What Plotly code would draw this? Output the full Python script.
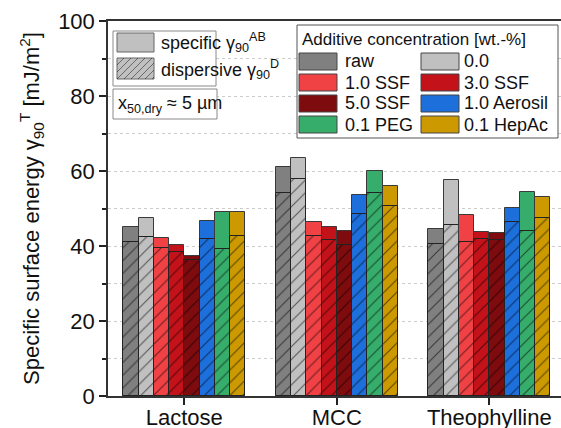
import plotly.graph_objects as go

# ---------------- data ----------------
categories = ["Lactose", "MCC", "Theophylline"]
additives = ["raw", "0.0", "1.0 SSF", "3.0 SSF", "5.0 SSF", "1.0 Aerosil", "0.1 PEG", "0.1 HepAc"]
colors = ["#808080", "#c0c0c0", "#f04145", "#c3121a", "#7e0b0e", "#1d6fdc", "#37ad6b", "#cc9a00"]

# specific surface energy gamma_90^AB (total bar height)
specific_raw = [45.0, 61.0, 44.6]
specific_00 = [47.4, 63.6, 57.5]
specific_ssf10 = [42.1, 46.3, 48.3]
specific_ssf30 = [40.4, 45.0, 43.7]
specific_ssf50 = [37.4, 44.1, 43.4]
specific_aerosil = [46.6, 53.6, 50.1]
specific_peg = [49.2, 59.9, 54.3]
specific_hepac = [49.0, 56.0, 53.0]

# dispersive surface energy gamma_90^D (hatched part)
dispersive_raw = [41.2, 54.2, 40.6]
dispersive_00 = [42.3, 58.0, 45.6]
dispersive_ssf10 = [39.4, 42.8, 41.0]
dispersive_ssf30 = [38.3, 41.5, 41.8]
dispersive_ssf50 = [36.4, 40.2, 41.5]
dispersive_aerosil = [42.0, 48.5, 46.4]
dispersive_peg = [39.2, 54.2, 44.0]
dispersive_hepac = [42.8, 50.8, 47.4]

specific = [specific_raw, specific_00, specific_ssf10, specific_ssf30,
            specific_ssf50, specific_aerosil, specific_peg, specific_hepac]
dispersive = [dispersive_raw, dispersive_00, dispersive_ssf10, dispersive_ssf30,
              dispersive_ssf50, dispersive_aerosil, dispersive_peg, dispersive_hepac]

y_ticks = [0, 20, 40, 60, 80, 100]

# ---------------- layout helpers ----------------
W, H = 561, 428
L, R, T, B = 108, 0, 21, 32
PW, PH = W - L - R, H - T - B
FONT = "Liberation Sans, Arial, sans-serif"


def px(x):
    return (x - L) / PW


def py(y):
    return (H - B - y) / PH


fig = go.Figure()
bw = 0.1
n = len(additives)
for i, (name, col) in enumerate(zip(additives, colors)):
    off = -bw * n / 2 + i * bw
    fig.add_trace(go.Bar(
        x=categories, y=specific[i], offset=off, width=bw, name=name,
        marker=dict(color=col, line=dict(color="#3a3a3a", width=1)),
        showlegend=False, hoverinfo="skip"))
    fig.add_trace(go.Bar(
        x=categories, y=dispersive[i], offset=off, width=bw, name=name + " D",
        marker=dict(color=col, line=dict(color="#222222", width=1),
                    pattern=dict(shape="/", fgcolor="rgba(0,0,0,0.55)",
                                 bgcolor=col, size=9, solidity=0.12, fillmode="replace")),
        showlegend=False, hoverinfo="skip"))

shapes = []
annotations = []


def rect(x0, y0, x1, y1, fill, line="#555555", lw=1):
    shapes.append(dict(type="rect", xref="paper", yref="paper",
                       x0=px(x0), x1=px(x1), y0=py(y1), y1=py(y0),
                       fillcolor=fill, line=dict(color=line, width=lw), layer="above"))


def text(x, y, s, size=18, anchor="left"):
    annotations.append(dict(xref="paper", yref="paper", x=px(x), y=py(y), text=s,
                            showarrow=False, xanchor=anchor, yanchor="middle",
                            font=dict(family=FONT, size=size, color="#111111")))


def hatch(x0, y0, x1, y1, step=7):
    h = y1 - y0
    t = x0 - h
    while t < x1:
        sx, sy = t, y1
        ex, ey = t + h, y0
        if sx < x0:
            sy -= (x0 - sx)
            sx = x0
        if ex > x1:
            ey += (ex - x1)
            ex = x1
        if ex > sx:
            shapes.append(dict(type="line", xref="paper", yref="paper",
                               x0=px(sx), y0=py(sy), x1=px(ex), y1=py(ey),
                               line=dict(color="rgba(0,0,0,0.45)", width=1), layer="above"))
        t += step


# legend 1: specific / dispersive
rect(113, 31, 216, 86, "white", "#8a8a8a", 1)
rect(117, 33, 154, 52, "#c0c0c0", "#666666", 1)
rect(117, 58, 154, 79, "#c0c0c0", "#666666", 1)
hatch(117, 58, 154, 79)
text(159, 43, "specific γ<sub>90</sub><sup>AB</sup>")
text(159, 69, "dispersive γ<sub>90</sub><sup>D</sup>")

# box: particle size
rect(113, 89, 217, 119, "white", "#8a8a8a", 1)
text(116, 104, "x<sub>50,dry</sub> ≈ 5 µm")

# legend 2: additive concentration
rect(297, 25, 558, 138, "white", "#555555", 1)
text(300, 40, "Additive concentration [wt.-%]", size=17)
row_y = [61.5, 82.5, 103.5, 124.5]
for i, (name, col) in enumerate(zip(additives, colors)):
    r, c = i // 2, i % 2
    sx = 299 if c == 0 else 421
    yc = row_y[r]
    rect(sx, yc - 8.5, sx + 38, yc + 8.5, col, "#444444", 1)
    text(sx + 44 if c == 0 else sx + 41, yc, name, size=18)

fig.update_layout(
    width=W, height=H, autosize=False,
    margin=dict(l=L, r=R, t=T, b=B, pad=0, autoexpand=False),
    paper_bgcolor="white", plot_bgcolor="white",
    barmode="overlay", bargap=0,
    font=dict(family=FONT, size=22, color="#111111"),
    shapes=shapes, annotations=annotations,
    xaxis=dict(type="category", range=[-0.5, 2.47], ticks="outside", ticklen=7,
               tickwidth=1.5, tickcolor="#222222", showline=True, linecolor="#333333",
               linewidth=1.5, mirror=True, showgrid=False, automargin=False,
               ticklabelstandoff=-6,
               tickfont=dict(size=22, family=FONT)),
    yaxis=dict(range=[0, 100], tickvals=y_ticks, ticks="outside", ticklen=7, tickwidth=1.5,
               tickcolor="#222222", showline=True, linecolor="#333333", linewidth=1.5,
               showgrid=True, gridcolor="#cccccc", griddash="dot", gridwidth=1,
               zeroline=False, tickfont=dict(size=22, family=FONT), automargin=False,
               minor=dict(dtick=10, ticks="outside", ticklen=4, tickwidth=1.5,
                          tickcolor="#222222", showgrid=True, gridcolor="#cccccc",
                          griddash="dot"),
               title=dict(text="Specific surface energy γ<sub>90</sub><sup>T</sup> [mJ/m<sup>2</sup>]",
                          font=dict(size=22, family=FONT), standoff=12)),
)

fig.write_html("out.html", config={"displayModeBar": False},
               post_script="document.body.style.margin='0';document.body.style.overflow='hidden';")
